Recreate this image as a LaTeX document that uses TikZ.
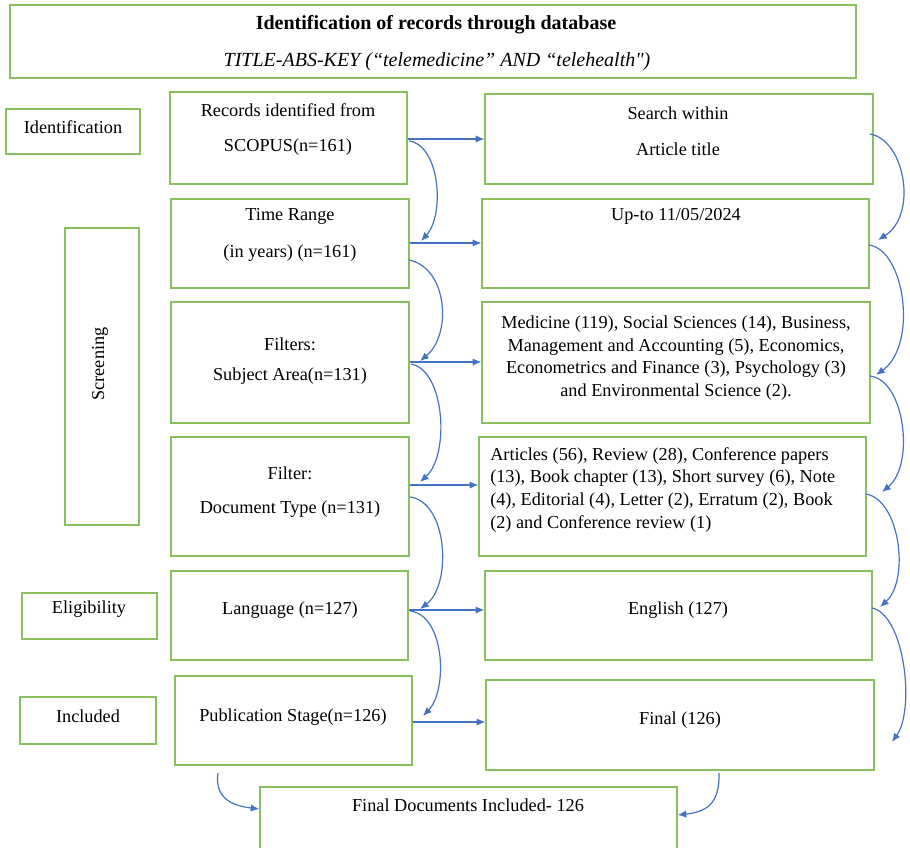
\documentclass[tikz,border=0pt]{standalone}
\usepackage{fontspec}
\setmainfont{Liberation Serif}
\usetikzlibrary{arrows.meta,fit}
\definecolor{boxgreen}{RGB}{137,192,94}
\definecolor{arrblue}{RGB}{68,114,196}
\begin{document}
\begin{tikzpicture}[x=0.75pt,y=-0.75pt,
  bx/.style={draw=boxgreen, line width=1pt, inner sep=0pt},
  txt/.style={inner sep=0pt, font=\fontsize{13.7}{17}\selectfont},
  arr/.style={draw=arrblue, line width=0.9pt, -{Latex[length=6.5pt,width=5.5pt]}}]
\useasboundingbox (0,0) rectangle (910,848);
% header
\node[bx, fit={(10,5) (856,78)}] (top) {};
\node[txt, font=\fontsize{15}{17}\selectfont\bfseries] (t1) at (436,25) {Identification of records through database};
\node[txt, font=\fontsize{15}{17}\selectfont\itshape] (t2) at (437,62) {TITLE-ABS-KEY (“telemedicine” AND “telehealth\textquotedbl)};
% stage labels
\node[bx, fit={(6,109) (140,154)}] (lid) {};
\node[txt] at (73,127) {Identification};
\node[bx, fit={(65,228) (139,525)}] (lsc) {};
\node[txt, rotate=90] at (100,364) {Screening};
\node[bx, fit={(22,593) (157,639)}] (lel) {};
\node[txt] at (89,609) {Eligibility};
\node[bx, fit={(20,697) (156,744)}] (lin) {};
\node[txt] at (88,716) {Included};
% left column
\node[bx, fit={(170,92) (407,184)}] (rec) {};
\node[txt] at (288,110) {Records identified from};
\node[txt] at (288,147) {SCOPUS(n=161)};
\node[bx, fit={(171,199) (409,288)}] (tr) {};
\node[txt] at (290,216) {Time Range};
\node[txt] at (290,253) {(in years) (n=161)};
\node[bx, fit={(171,302) (409,423)}] (fs) {};
\node[txt] at (290,344) {Filters:};
\node[txt] at (290,376) {Subject Area(n=131)};
\node[bx, fit={(171,437) (409,556)}] (fd) {};
\node[txt] at (290,473) {Filter:};
\node[txt] at (290,509) {Document Type (n=131)};
\node[bx, fit={(171,571) (408,660)}] (lang) {};
\node[txt] at (290,610) {Language (n=127)};
\node[bx, fit={(175,676) (412,765)}] (pub) {};
\node[txt] at (293,717) {Publication Stage(n=126)};
\node[bx, fit={(260,787) (677,860)}] (fin) {};
\node[txt] at (468,805) {Final Documents Included- 126};
% right column
\node[bx, fit={(485,94) (873,184)}] (srch) {};
\node[txt] at (678,113) {Search within};
\node[txt] at (678,149) {Article title};
\node[bx, fit={(482,199) (869,288)}] (upto) {};
\node[txt] at (676,216) {Up-to 11/05/2024};
\node[bx, fit={(482,302) (870,423)}] (subj) {};
\node[txt, align=center] at (676,358) {Medicine (119), Social Sciences (14), Business,\\Management and Accounting (5), Economics,\\Econometrics and Finance (3), Psychology (3)\\and Environmental Science (2).};
\node[bx, fit={(479,437) (866,556)}] (doc) {};
\node[txt, align=left, anchor=north west] at (490,447) {Articles (56), Review (28), Conference papers\\(13), Book chapter (13), Short survey (6), Note\\(4), Editorial (4), Letter (2), Erratum (2), Book\\(2) and Conference review (1)};
\node[bx, fit={(485,571) (872,660)}] (eng) {};
\node[txt] at (678,610) {English (127)};
\node[bx, fit={(486,680) (874,770)}] (finl) {};
\node[txt] at (680,720) {Final (126)};
% straight arrows
\coordinate (h1) at (rec.east |- 0,139);
\coordinate (h2) at (tr.east |- 0,243);
\coordinate (h3) at (fs.east |- 0,362);
\coordinate (h4) at (fd.east |- 0,485);
\coordinate (h5) at (lang.east |- 0,610);
\coordinate (h6) at (pub.east |- 0,722);
\draw[arr] (h1) -- (h1 -| srch.west);
\draw[arr] (h2) -- (h2 -| upto.west);
\draw[arr] (h3) -- (h3 -| subj.west);
\draw[arr] (h4) -- (h4 -| doc.west);
\draw[arr] (h5) -- (h5 -| eng.west);
\draw[arr] (h6) -- (h6 -| finl.west);
% left curves
\coordinate (la1) at (409,141); \coordinate (la2) at (421,241);
\coordinate (lb1) at (409,260); \coordinate (lb2) at (420,361);
\coordinate (lc1) at (411,364); \coordinate (lc2) at (420,482);
\coordinate (ld1) at (410,497); \coordinate (ld2) at (420,609);
\coordinate (le1) at (410,611); \coordinate (le2) at (423,716);
\draw[arr] (la1) .. controls (440,145) and (445,215) .. (la2);
\draw[arr] (lb1) .. controls (448,268) and (452,335) .. (lb2);
\draw[arr] (lc1) .. controls (445,370) and (450,455) .. (lc2);
\draw[arr] (ld1) .. controls (448,502) and (452,585) .. (ld2);
\draw[arr] (le1) .. controls (445,615) and (448,690) .. (le2);
% right curves
\coordinate (ra1) at (870,134); \coordinate (ra2) at (878,240);
\coordinate (rb1) at (869,245); \coordinate (rb2) at (876,375);
\coordinate (rc1) at (870,376); \coordinate (rc2) at (882,492);
\coordinate (rd1) at (866,494); \coordinate (rd2) at (880,607);
\coordinate (re1) at (872,608); \coordinate (re2) at (892,742);
\draw[arr] (ra1) .. controls (905,140) and (918,215) .. (ra2);
\draw[arr] (rb1) .. controls (905,250) and (918,345) .. (rb2);
\draw[arr] (rc1) .. controls (905,380) and (915,465) .. (rc2);
\draw[arr] (rd1) .. controls (900,500) and (910,580) .. (rd2);
\draw[arr] (re1) .. controls (905,615) and (915,710) .. (re2);
% bottom curves
\coordinate (ba1) at (218,773);
\coordinate (bb1) at (719,773);
\draw[arr] (ba1) .. controls (214,800) and (235,806) .. (fin.west |- 0,809);
\draw[arr] (bb1) .. controls (720,805) and (705,812) .. (fin.east |- 0,815);
\end{tikzpicture}
\end{document}
